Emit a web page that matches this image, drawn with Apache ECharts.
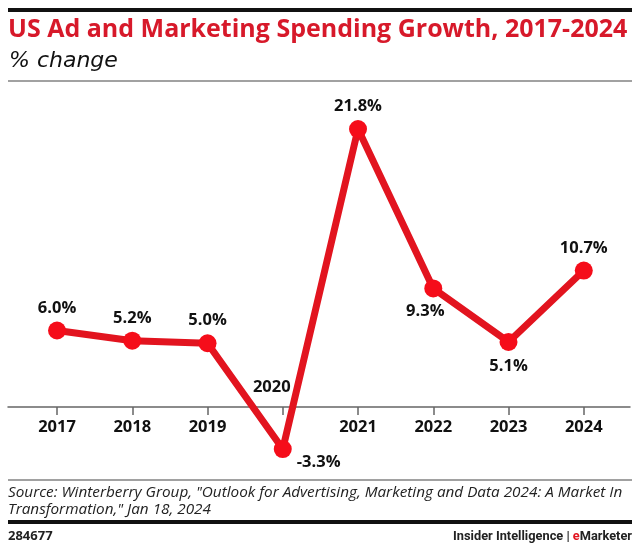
<!DOCTYPE html>
<html>
<head>
<meta charset="utf-8">
<script src="https://cdn.jsdelivr.net/npm/echarts@6/dist/echarts.min.js"></script>
<style>html,body{margin:0;padding:0;background:#fff}#c{width:640px;height:550px}</style>
</head>
<body>
<div id="c"></div>
<script>
var years = ['2017', '2018', '2019', '2020', '2021', '2022', '2023', '2024'];
var growth = [6.0, 5.2, 5.0, -3.3, 21.8, 9.3, 5.1, 10.7];
var titleText = 'US Ad and Marketing Spending Growth, 2017-2024';
var subtitleText = '% change';
var sourceLines = ['Source: Winterberry Group, "Outlook for Advertising, Marketing and Data 2024: A Market In', 'Transformation," Jan 18, 2024'];
var chartId = '284677';

var RED = '#e2141f';
var DOT = '#f50d1a';
var FONT = '"Open Sans", Roboto, sans-serif';
var WIDE = '"DejaVu Sans", sans-serif';

// label placement per point (style, not data)
var labelCfg = {
  '2020': { position: 'right', offset: [0, 13] },
  '2022': { position: 'bottom', offset: [-8, 0] },
  '2023': { position: 'bottom', distance: 7 }
};

var seriesData = growth.map(function (v, i) {
  var cfg = labelCfg[years[i]] || { position: 'top' };
  return { value: v, label: cfg };
});

var catData = years.map(function (y, i) {
  if (growth[i] < 0) {
    return { value: y, textStyle: { verticalAlign: 'bottom', padding: [0, 22, 23, 0] } };
  }
  return y;
});

// the grid's bottom edge is the zero line; negative values extend below it (clip: false)
var gridTop = 101, gridBottom = 143;

var chart = echarts.init(document.getElementById('c'));
chart.setOption({
  animation: false,
  title: [
    { text: titleText, left: 8, top: 17, padding: 0,
      textStyle: { color: '#d7192a', fontSize: 25, fontWeight: 'bold', fontFamily: FONT } },
    { text: subtitleText, left: 9, top: 50, padding: 0,
      textStyle: { color: '#111', fontSize: 22, fontWeight: 'normal', fontStyle: 'italic', fontFamily: WIDE } }
  ],
  grid: [
    { left: 19.4, right: 18.6, top: gridTop, bottom: gridBottom },
    { left: 8, right: 10, top: gridTop, bottom: gridBottom }
  ],
  xAxis: [
    { type: 'category', gridIndex: 0, data: catData, boundaryGap: true,
      axisLine: { show: false },
      axisTick: { show: true, alignWithLabel: true, length: 8, lineStyle: { color: '#666', width: 1.5 } },
      axisLabel: { margin: 12, color: '#111', fontSize: 16.5, fontWeight: 'bold', fontFamily: FONT },
      splitLine: { show: false } },
    { type: 'value', gridIndex: 1, min: 0, max: 1,
      axisLine: { show: true, onZero: false, lineStyle: { color: '#666', width: 1.5 } },
      axisTick: { show: false }, axisLabel: { show: false }, splitLine: { show: false } }
  ],
  yAxis: [
    { type: 'value', gridIndex: 0, min: 0, max: 24, show: false },
    { type: 'value', gridIndex: 1, min: 0, max: 24, show: false }
  ],
  series: [
    { type: 'line', xAxisIndex: 1, yAxisIndex: 1, data: [], silent: true },
    { type: 'line', xAxisIndex: 0, yAxisIndex: 0, data: seriesData, clip: false,
      symbol: 'circle', symbolSize: 18, z: 5,
      lineStyle: { color: RED, width: 7 },
      itemStyle: { color: DOT },
      label: { show: true, color: '#111', fontSize: 16.5, fontWeight: 'bold', fontFamily: FONT,
        formatter: function (p) { return p.value.toFixed(1) + '%'; } } }
  ],
  graphic: [
    { type: 'rect', shape: { x: 8, y: 8, width: 624, height: 4 }, style: { fill: '#111' } },
    { type: 'rect', shape: { x: 8, y: 80.5, width: 624, height: 1 }, style: { fill: '#444' } },
    { type: 'rect', shape: { x: 8, y: 479.5, width: 624, height: 1 }, style: { fill: '#444' } },
    { type: 'rect', shape: { x: 8, y: 520, width: 624, height: 4 }, style: { fill: '#111' } },
    { type: 'text', left: 8, top: 484, style: { text: sourceLines.join('\n'), fill: '#222',
      font: 'italic 15.3px ' + FONT, lineHeight: 17 } },
    { type: 'text', left: 8, top: 530, style: { text: chartId, fill: '#222', font: 'bold 13px ' + FONT } },
    { type: 'text', right: 8, top: 530, style: { text: '{a|Insider Intelligence | }{b|e}{a|Marketer}',
      rich: { a: { fill: '#222', fontWeight: 'bold', fontSize: 12.8, fontFamily: 'Roboto' },
              b: { fill: RED, fontWeight: 'bold', fontSize: 12.8, fontFamily: 'Roboto' } } } }
  ]
});
</script>
</body>
</html>
